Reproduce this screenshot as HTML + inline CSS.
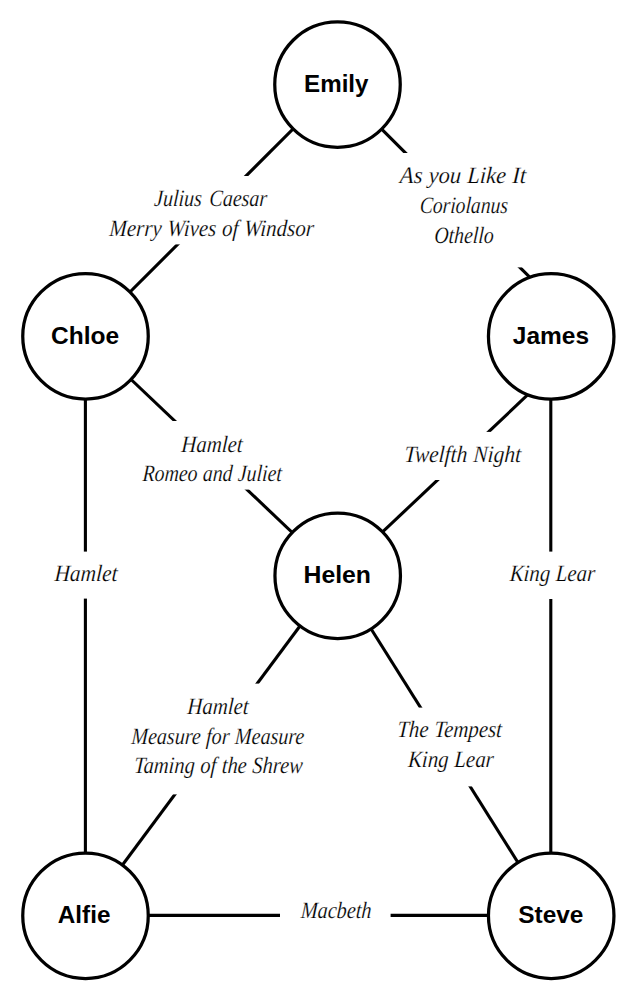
<!DOCTYPE html>
<html>
<head>
<meta charset="utf-8">
<title>Shakespeare cast graph</title>
<style>
html,body{margin:0;padding:0;background:#fff;}
body{width:635px;height:1000px;overflow:hidden;}
svg{display:block;}
.edge{stroke:#000;stroke-width:3.1;stroke-linecap:butt;fill:none;}
.gap{fill:#fff;stroke:none;}
.node{stroke:#000;stroke-width:3.25;fill:#fff;}
.name{font-family:"Liberation Sans",Arial,Helvetica,sans-serif;font-weight:bold;font-size:24px;fill:#000;}
.lbl{font-family:"Liberation Serif","Times New Roman",Times,serif;font-style:italic;font-size:23.5px;fill:#000;word-spacing:0.5px;stroke:#fff;stroke-width:0.2px;}
</style>
</head>
<body>
<svg width="635" height="1000" viewBox="0 0 635 1000">
<rect x="0" y="0" width="635" height="1000" fill="#fff"/>
<g class="edge">
<line x1="337.5" y1="84.5" x2="85.5" y2="336.5"/>
<line x1="337.2" y1="84.7" x2="551.2" y2="298.7"/>
<line x1="85.3" y1="336.0" x2="337.5" y2="575.5"/>
<line x1="562.2" y1="362.2" x2="337.3" y2="574.7"/>
<line x1="85.4" y1="336" x2="85.4" y2="915"/>
<line x1="550.8" y1="336" x2="550.8" y2="915"/>
<line x1="337.5" y1="575.5" x2="85.3" y2="915"/>
<line x1="337.5" y1="575.5" x2="551.2" y2="915.3"/>
<line x1="85" y1="915.4" x2="551" y2="915.4"/>
</g>
<g class="gap">
<rect x="100" y="176" width="225" height="68.4"/>
<rect x="392" y="153" width="140" height="114.4"/>
<rect x="130" y="421" width="165" height="68.6"/>
<rect x="398" y="431.9" width="130" height="48.1"/>
<rect x="40" y="551.6" width="90" height="47.0"/>
<rect x="500" y="551.6" width="100" height="47.4"/>
<rect x="120" y="683.6" width="195" height="110.8"/>
<rect x="390" y="707.6" width="120" height="78.8"/>
<rect x="280" y="890" width="110.6" height="50"/>
</g>
<g class="node">
<circle cx="337.5" cy="84.6" r="62.75"/>
<circle cx="85.5" cy="336.3" r="62.75"/>
<circle cx="551.2" cy="336.4" r="62.75"/>
<circle cx="337.7" cy="575.8" r="62.75"/>
<circle cx="85.5" cy="915.8" r="62.75"/>
<circle cx="551.2" cy="915.8" r="62.75"/>
</g>
<g class="name">
<text x="304.09" y="92.0" textLength="64.41" lengthAdjust="spacingAndGlyphs">Emily</text>
<text x="51.0" y="343.8" textLength="68.08" lengthAdjust="spacingAndGlyphs">Chloe</text>
<text x="512.87" y="343.5" textLength="76.16" lengthAdjust="spacingAndGlyphs">James</text>
<text x="303.5" y="582.8" textLength="67.44" lengthAdjust="spacingAndGlyphs">Helen</text>
<text x="57.87" y="922.7" textLength="52.56" lengthAdjust="spacingAndGlyphs">Alfie</text>
<text x="518.24" y="922.7" textLength="65.16" lengthAdjust="spacingAndGlyphs">Steve</text>
</g>
<g class="lbl">
<text transform="translate(153.78 205.6) skewX(-3.5)" textLength="113.05" lengthAdjust="spacingAndGlyphs" style="word-spacing:3px">Julius Caesar</text>
<text transform="translate(109.0 235.8) skewX(-3.5)" textLength="204.59" lengthAdjust="spacingAndGlyphs">Merry Wives of Windsor</text>
<text transform="translate(399.6 183) skewX(-3.5)" textLength="126.2" lengthAdjust="spacingAndGlyphs">As you Like It</text>
<text transform="translate(419.42 212.9) skewX(-3.5)" textLength="88.2" lengthAdjust="spacingAndGlyphs">Coriolanus</text>
<text transform="translate(434.0 243.4) skewX(-3.5)" textLength="59.3" lengthAdjust="spacingAndGlyphs">Othello</text>
<text transform="translate(181.0 451.6) skewX(-3.5)" textLength="61.2" lengthAdjust="spacingAndGlyphs">Hamlet</text>
<text transform="translate(142.18 481) skewX(-3.5)" textLength="139.31" lengthAdjust="spacingAndGlyphs">Romeo and Juliet</text>
<text transform="translate(404.0 461.5) skewX(-3.5)" textLength="116.84" lengthAdjust="spacingAndGlyphs">Twelfth Night</text>
<text transform="translate(54.17 580.6) skewX(-3.5)" textLength="62.97" lengthAdjust="spacingAndGlyphs">Hamlet</text>
<text transform="translate(509.4 580.6) skewX(-3.5)" textLength="85.4" lengthAdjust="spacingAndGlyphs">King Lear</text>
<text transform="translate(187.0 713.5) skewX(-3.5)" textLength="61.2" lengthAdjust="spacingAndGlyphs">Hamlet</text>
<text transform="translate(131.0 743.9) skewX(-3.5)" textLength="173.0" lengthAdjust="spacingAndGlyphs">Measure for Measure</text>
<text transform="translate(133.71 773.1) skewX(-3.5)" textLength="168.74" lengthAdjust="spacingAndGlyphs">Taming of the Shrew</text>
<text transform="translate(397.0 737) skewX(-3.5)" textLength="104.65" lengthAdjust="spacingAndGlyphs">The Tempest</text>
<text transform="translate(407.63 766.7) skewX(-3.5)" textLength="85.87" lengthAdjust="spacingAndGlyphs">King Lear</text>
<text transform="translate(300.4 918) skewX(-3.5)" textLength="70.84" lengthAdjust="spacingAndGlyphs">Macbeth</text>
</g>
</svg>
</body>
</html>
